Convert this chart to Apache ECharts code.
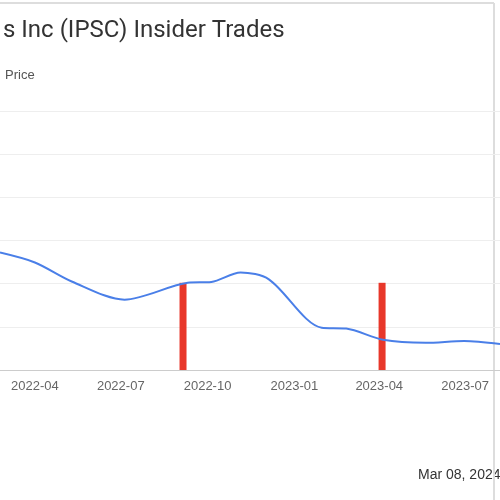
<!DOCTYPE html>
<html><head><meta charset="utf-8">
<script src="https://cdn.jsdelivr.net/npm/echarts@6/dist/echarts.min.js"></script>
<style>html,body{margin:0;padding:0;background:#fff}#c{width:500px;height:500px}</style>
</head><body><div id="c"></div>
<script>
const priceDates = ['2022-02-23','2022-04-01','2022-05-10','2022-07-05','2022-09-10','2022-10-05','2022-11-05','2022-12-05','2023-01-30','2023-02-25','2023-04-05','2023-05-20','2023-06-30','2023-08-07'];
const priceValues = [2.72,2.49,2.05,1.63,2.02,2.04,2.26,2.10,0.98,0.96,0.70,0.63,0.67,0.60];
const tradeDates = ['2022-09-05','2023-04-04'];
const tradeValues = [2.02,2.02];
const tickLabels = ['2022-04-01','2022-07-01','2022-10-01','2023-01-01','2023-04-01','2023-07-01'];
const ts = d => Date.parse(d + 'T00:00:00Z');
const chart = echarts.init(document.getElementById('c'));
chart.setOption({
  animation:false,
  title:{text:'s Inc (IPSC) Insider Trades',left:-2,top:14,textStyle:{fontSize:24,fontWeight:'normal',color:'#333',fontFamily:'Roboto'}},
  legend:{data:['Price'],left:-14,top:64,icon:'circle',itemWidth:9,itemHeight:9,textStyle:{color:'#555',fontSize:13}},
  grid:{left:0,right:0,top:111,bottom:130},
  xAxis:{type:'value',min:ts('2022-02-23'),max:ts('2023-08-07'),
    axisLine:{lineStyle:{color:'#ccc'}},axisTick:{show:false},splitLine:{show:false},
    axisLabel:{customValues:tickLabels.map(ts),color:'#666',fontSize:13,margin:10,showMinLabel:true,showMaxLabel:true,
      formatter:v=>{const d=new Date(v);return d.getUTCFullYear()+'-'+String(d.getUTCMonth()+1).padStart(2,'0');}}},
  yAxis:{type:'value',min:0,max:6,interval:1,axisLabel:{show:false},axisLine:{show:false},axisTick:{show:false},
    splitLine:{lineStyle:{color:'#eee'}}},
  series:[
    {name:'Price',type:'line',smooth:0.3,symbol:'none',data:priceDates.map((d,i)=>[ts(d),priceValues[i]]),
      lineStyle:{color:'#4a7fe8',width:2},itemStyle:{color:'#4a7fe8'}},
    {name:'Trades',type:'bar',barWidth:7,data:tradeDates.map((d,i)=>[ts(d),tradeValues[i]]),itemStyle:{color:'#e8372a'}}
  ],
  graphic:[
    {type:'text',left:418,top:468,style:{text:'Mar 08, 2024',fontSize:14,fill:'#333'}},
    {type:'line',shape:{x1:0,y1:3,x2:494,y2:3},style:{stroke:'#ddd',lineWidth:2}},
    {type:'line',shape:{x1:494,y1:3,x2:494,y2:500},style:{stroke:'#ddd',lineWidth:2}}
  ]
});
</script></body></html>
